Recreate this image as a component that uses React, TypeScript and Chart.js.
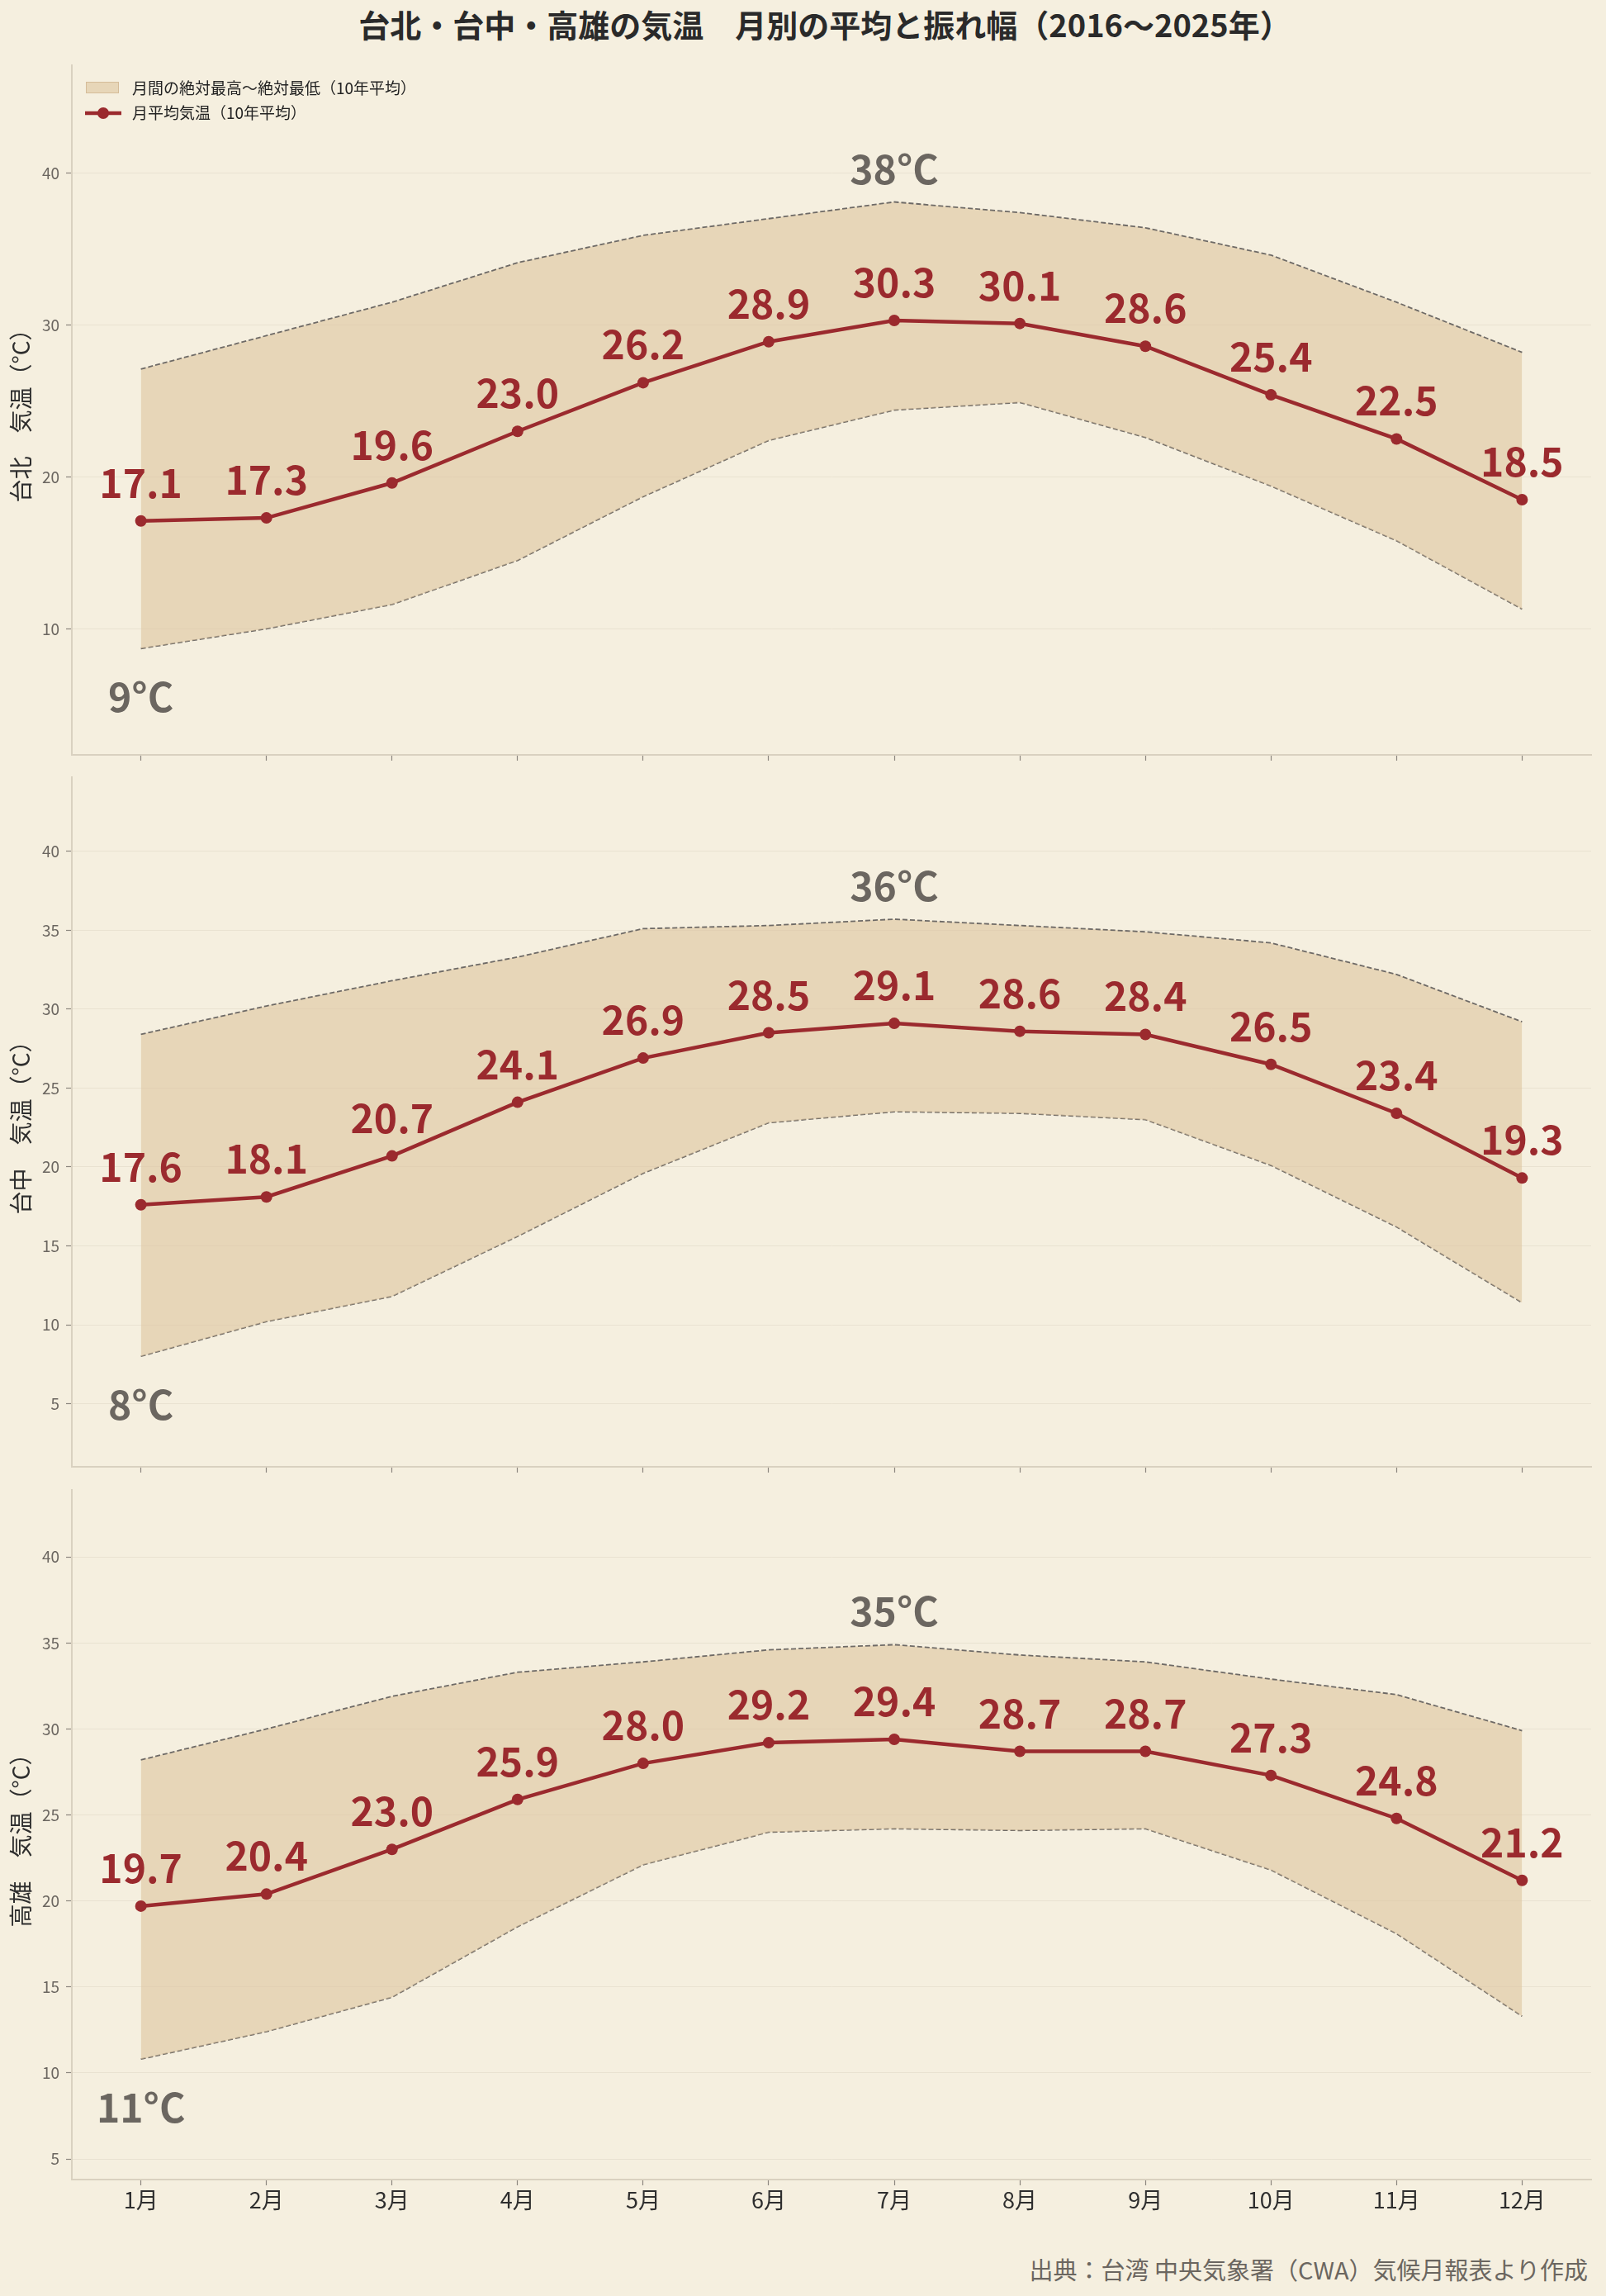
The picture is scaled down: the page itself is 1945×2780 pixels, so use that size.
import React, { useEffect, useRef } from "react";
import { Chart, registerables } from "chart.js";

Chart.register(...registerables);

// ---------- data ----------
const MONTHS = ["1月", "2月", "3月", "4月", "5月", "6月", "7月", "8月", "9月", "10月", "11月", "12月"];
const TITLE = "台北・台中・高雄の気温　月別の平均と振れ幅（2016〜2025年）";
const SOURCE = "出典：台湾 中央気象署（CWA）気候月報表より作成";
const LEGEND_BAND = "月間の絶対最高〜絶対最低（10年平均）";
const LEGEND_MEAN = "月平均気温（10年平均）";
const Y_TITLE_SUFFIX = "　気温（°C）";

const CITY_NAMES = ["台北", "台中", "高雄"];

const TAIPEI_MEAN = [17.1, 17.3, 19.6, 23.0, 26.2, 28.9, 30.3, 30.1, 28.6, 25.4, 22.5, 18.5];
const TAIPEI_HIGH = [27.1, 29.3, 31.5, 34.1, 35.9, 37.0, 38.1, 37.4, 36.4, 34.6, 31.5, 28.2];
const TAIPEI_LOW = [8.7, 10.0, 11.6, 14.5, 18.7, 22.4, 24.4, 24.9, 22.6, 19.4, 15.8, 11.3];

const TAICHUNG_MEAN = [17.6, 18.1, 20.7, 24.1, 26.9, 28.5, 29.1, 28.6, 28.4, 26.5, 23.4, 19.3];
const TAICHUNG_HIGH = [28.4, 30.2, 31.8, 33.3, 35.1, 35.3, 35.7, 35.3, 34.9, 34.2, 32.2, 29.2];
const TAICHUNG_LOW = [8.0, 10.2, 11.8, 15.6, 19.6, 22.8, 23.5, 23.4, 23.0, 20.1, 16.2, 11.4];

const KAOHSIUNG_MEAN = [19.7, 20.4, 23.0, 25.9, 28.0, 29.2, 29.4, 28.7, 28.7, 27.3, 24.8, 21.2];
const KAOHSIUNG_HIGH = [28.2, 30.0, 31.9, 33.3, 33.9, 34.6, 34.9, 34.3, 33.9, 32.9, 32.0, 29.9];
const KAOHSIUNG_LOW = [10.8, 12.4, 14.4, 18.5, 22.1, 24.0, 24.2, 24.1, 24.2, 21.8, 18.1, 13.3];

const TAIPEI_TICKS = [10, 20, 30, 40];
const TAICHUNG_TICKS = [5, 10, 15, 20, 25, 30, 35, 40];
const KAOHSIUNG_TICKS = [5, 10, 15, 20, 25, 30, 35, 40];

// ---------- styles / layout ----------
const FONT = '"Noto Sans CJK JP", "Noto Sans CJK SC", "Noto Sans", sans-serif';
const BG = "#f5efdf";
const RED = "#9b2a2e";
const BAND = "rgba(222,196,158,0.6)";
const EDGE = "#6e6a66";
const GRAY_TEXT = "#6b6660";
const PAGE_W = 1945;
const PAGE_H = 2780;
const PLOT_LEFT = 87;
const PLOT_RIGHT = 1927;
const PAD_TOP = 20;

Chart.defaults.font.family = FONT;

type PanelProps = {
  city: string;
  mean: number[];
  high: number[];
  low: number[];
  ticks: number[];
  top: number;
  bottom: number;
  showX: boolean;
  showLegend: boolean;
};

function Panel({ city, mean, high, low, ticks, top, bottom, showX, showLegend }: PanelProps) {
  const ref = useRef<HTMLCanvasElement | null>(null);
  const xAxisH = showX ? 52 : 12;
  const padBottom = 8;
  const canvasH = PAD_TOP + (bottom - top) + xAxisH + padBottom;

  useEffect(() => {
    const canvas = ref.current;
    if (!canvas) return;
    const yMin = Math.min(...low) - 7;
    const yMax = Math.max(...high) + 9;
    const toPts = (arr: number[]) => arr.map((v, i) => ({ x: i, y: v }));

    const annotate = {
      id: "annotate",
      afterDatasetsDraw(chart: any) {
        const ctx = chart.ctx;
        const hiMeta = chart.getDatasetMeta(0).data;
        const loMeta = chart.getDatasetMeta(1).data;
        const meanMeta = chart.getDatasetMeta(2).data;
        ctx.save();
        ctx.textAlign = "center";
        ctx.textBaseline = "alphabetic";
        ctx.font = `bold 48px ${FONT}`;
        ctx.fillStyle = RED;
        mean.forEach((v, i) => {
          const p = meanMeta[i];
          ctx.fillText(v.toFixed(1), p.x, p.y - 28);
        });
        const hiVal = Math.max(...high);
        const hiIdx = high.indexOf(hiVal);
        const loVal = Math.min(...low);
        const loIdx = low.indexOf(loVal);
        ctx.fillStyle = GRAY_TEXT;
        ctx.fillText(`${Math.round(hiVal)}°C`, hiMeta[hiIdx].x, hiMeta[hiIdx].y - 22);
        ctx.fillText(`${Math.round(loVal)}°C`, loMeta[loIdx].x, loMeta[loIdx].y + 77);
        ctx.restore();
      },
    };

    const legend = {
      id: "bandLegend",
      afterDraw(chart: any) {
        if (!showLegend) return;
        const { ctx, chartArea } = chart;
        const L = chartArea.left;
        const T = chartArea.top;
        ctx.save();
        ctx.fillStyle = BAND;
        ctx.fillRect(L + 17, T + 20, 40, 14);
        ctx.strokeStyle = "rgba(205,178,140,0.7)";
        ctx.lineWidth = 1;
        ctx.strokeRect(L + 17.5, T + 20.5, 39, 13);
        ctx.strokeStyle = RED;
        ctx.lineWidth = 4.5;
        ctx.beginPath();
        ctx.moveTo(L + 16, T + 58);
        ctx.lineTo(L + 60, T + 58);
        ctx.stroke();
        ctx.fillStyle = RED;
        ctx.beginPath();
        ctx.arc(L + 38, T + 58, 7, 0, Math.PI * 2);
        ctx.fill();
        ctx.fillStyle = "#222";
        ctx.font = `19px ${FONT}`;
        ctx.textAlign = "left";
        ctx.textBaseline = "middle";
        ctx.fillText(LEGEND_BAND, L + 73, T + 28);
        ctx.fillText(LEGEND_MEAN, L + 73, T + 58);
        ctx.restore();
      },
    };

    const chart = new Chart(canvas, {
      type: "line",
      data: {
        datasets: [
          {
            label: "high",
            data: toPts(high),
            borderColor: EDGE,
            borderWidth: 1.8,
            borderDash: [6, 3],
            pointRadius: 0,
            fill: "+1",
            backgroundColor: BAND,
            tension: 0,
            order: 2,
          },
          {
            label: "low",
            data: toPts(low),
            borderColor: EDGE,
            borderWidth: 1.8,
            borderDash: [6, 3],
            pointRadius: 0,
            fill: false,
            tension: 0,
            order: 3,
          },
          {
            label: "mean",
            data: toPts(mean),
            borderColor: RED,
            borderWidth: 4.5,
            pointRadius: 7,
            pointBackgroundColor: RED,
            pointBorderColor: RED,
            pointBorderWidth: 0,
            fill: false,
            tension: 0,
            order: 0,
          },
        ],
      } as any,
      options: {
        animation: false,
        responsive: false,
        events: [],
        layout: { padding: { top: PAD_TOP, left: 0, right: PAGE_W - PLOT_RIGHT, bottom: padBottom } },
        plugins: {
          legend: { display: false },
          tooltip: { enabled: false },
          title: { display: false },
        },
        scales: {
          x: {
            type: "linear",
            min: -0.55,
            max: 11.55,
            bounds: "data",
            afterBuildTicks: (scale: any) => {
              scale.ticks = MONTHS.map((_, i) => ({ value: i }));
            },
            afterFit: (scale: any) => {
              scale.height = xAxisH;
            },
            ticks: {
              display: showX,
              callback: (v: any) => MONTHS[Number(v)] ?? "",
              color: "#2e2e2e",
              font: { size: 27, family: FONT },
              padding: 2,
              maxRotation: 0,
              autoSkip: false,
            },
            grid: {
              drawOnChartArea: false,
              drawTicks: true,
              tickLength: 7,
              tickColor: "#8c877f",
              tickWidth: 1.2,
            },
            border: { display: true, color: "#d9d1c0", width: 2 },
          },
          y: {
            type: "linear",
            min: yMin,
            max: yMax,
            bounds: "data",
            afterBuildTicks: (scale: any) => {
              scale.ticks = ticks.map((v) => ({ value: v }));
            },
            afterFit: (scale: any) => {
              scale.width = PLOT_LEFT;
            },
            ticks: {
              color: GRAY_TEXT,
              font: { size: 19, family: FONT },
              padding: 8,
            },
            grid: {
              color: "#e9e2d1",
              lineWidth: 1,
              drawTicks: true,
              tickLength: 7,
              tickColor: "#8c877f",
              tickWidth: 1.2,
            },
            border: { display: true, color: "#d9d1c0", width: 2 },
            title: {
              display: true,
              text: city + Y_TITLE_SUFFIX,
              color: "#2e2e2e",
              font: { size: 28, family: FONT },
              padding: { top: 9, bottom: 0 },
            },
          },
        },
      } as any,
      plugins: [annotate, legend],
    });
    return () => chart.destroy();
  }, []);

  return (
    <canvas
      ref={ref}
      width={PAGE_W}
      height={canvasH}
      style={{ position: "absolute", left: 0, top: top - PAD_TOP, width: PAGE_W, height: canvasH }}
    />
  );
}

export default function App() {
  useEffect(() => {
    document.body.style.margin = "0";
    document.body.style.background = BG;
  }, []);

  return (
    <div
      style={{
        position: "absolute",
        left: 0,
        top: 0,
        width: PAGE_W,
        height: PAGE_H,
        background: BG,
        overflow: "hidden",
        fontFamily: FONT,
      }}
    >
      <div
        style={{
          position: "absolute",
          left: 0,
          top: 10,
          width: 1998,
          textAlign: "center",
          fontSize: 38,
          lineHeight: "38px",
          fontWeight: 700,
          color: "#2a2a2a",
          whiteSpace: "nowrap",
        }}
      >
        {TITLE}
      </div>
      <Panel
        city={CITY_NAMES[0]}
        mean={TAIPEI_MEAN}
        high={TAIPEI_HIGH}
        low={TAIPEI_LOW}
        ticks={TAIPEI_TICKS}
        top={79}
        bottom={914}
        showX={false}
        showLegend={true}
      />
      <Panel
        city={CITY_NAMES[1]}
        mean={TAICHUNG_MEAN}
        high={TAICHUNG_HIGH}
        low={TAICHUNG_LOW}
        ticks={TAICHUNG_TICKS}
        top={941}
        bottom={1776}
        showX={false}
        showLegend={false}
      />
      <Panel
        city={CITY_NAMES[2]}
        mean={KAOHSIUNG_MEAN}
        high={KAOHSIUNG_HIGH}
        low={KAOHSIUNG_LOW}
        ticks={KAOHSIUNG_TICKS}
        top={1804}
        bottom={2639}
        showX={true}
        showLegend={false}
      />
      <div
        style={{
          position: "absolute",
          right: PAGE_W - 1923,
          top: 2733,
          fontSize: 29,
          lineHeight: "29px",
          color: GRAY_TEXT,
          whiteSpace: "nowrap",
        }}
      >
        {SOURCE}
      </div>
    </div>
  );
}
